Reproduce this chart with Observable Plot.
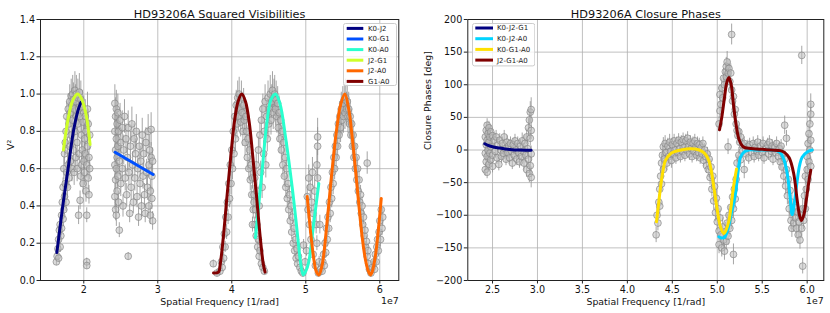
<!DOCTYPE html>
<html><head><meta charset="utf-8">
<script src="https://cdn.jsdelivr.net/npm/d3@7"></script>
<script src="https://cdn.jsdelivr.net/npm/@observablehq/plot@0.6"></script>
<style>
body{margin:0;background:#fff;font-family:"DejaVu Sans",sans-serif}
#wrap{display:flex;width:830px;height:313px}
.panel{position:relative;width:415px;height:313px}
</style></head><body>
<div id="wrap"><div class="panel" id="p1"></div><div class="panel" id="p2"></div></div>
<script>
// ---------- Left panel: squared visibilities ----------
const visTitle = "HD93206A Squared Visibilities";
const visYLabel = "V²";
const xLabel = "Spatial Frequency [1/rad]";
const visXTicks = [2, 3, 4, 5, 6];
const visYTicks = [0, 0.2, 0.4, 0.6, 0.8, 1.0, 1.2, 1.4];
const visNames = ["K0-J2", "K0-G1", "K0-A0", "J2-G1", "J2-A0", "G1-A0"];
const visColors = ["#000080", "#0050ff", "#29ffce", "#ceff29", "#ff6800", "#800000"];

// observed points [x (1e7/rad), V2, error]
const visPoints = [
[1.63,0.10,0.02],[1.64,0.13,0.02],[1.65,0.17,0.03],[1.66,0.12,0.02],[1.66,0.22,0.03],[1.67,0.27,0.03],[1.68,0.18,0.03],[1.68,0.30,0.04],[1.69,0.24,0.03],[1.70,0.35,0.04],[1.70,0.28,0.04],[1.71,0.42,0.05],[1.72,0.33,0.04],[1.72,0.50,0.05],[1.73,0.38,0.05],[1.73,0.60,0.06],[1.74,0.45,0.05],[1.74,0.68,0.06],[1.75,0.52,0.06],[1.75,0.74,0.07],[1.76,0.42,0.05],[1.76,0.80,0.07],[1.77,0.58,0.06],[1.77,0.88,0.08],[1.78,0.50,0.06],[1.78,0.70,0.07],[1.79,0.92,0.08],[1.79,0.62,0.06],[1.80,0.84,0.08],[1.80,0.55,0.06],[1.81,0.96,0.09],[1.81,0.72,0.07],[1.82,0.64,0.07],[1.82,0.90,0.08],[1.83,0.99,0.09],[1.83,0.78,0.08],[1.84,0.60,0.07],[1.84,0.94,0.09],[1.85,0.86,0.08],[1.85,1.00,0.10],[1.86,0.70,0.07],[1.86,0.97,0.09],[1.87,0.58,0.07],[1.87,0.92,0.09],[1.88,1.02,0.10],[1.88,0.80,0.08],[1.89,0.66,0.07],[1.89,0.96,0.09],[1.90,0.88,0.09],[1.90,1.00,0.10],[1.91,0.74,0.08],[1.91,0.60,0.07],[1.92,0.98,0.10],[1.92,0.84,0.09],[1.93,0.35,0.05],[1.93,0.92,0.09],[1.94,0.68,0.07],[1.94,1.01,0.10],[1.95,0.43,0.05],[1.95,0.88,0.09],[1.96,0.56,0.06],[1.96,0.97,0.10],[1.97,0.78,0.08],[1.97,0.62,0.07],[1.98,0.93,0.09],[1.98,0.70,0.07],[1.99,0.85,0.09],[1.99,0.52,0.06],[2.00,0.90,0.09],[2.00,0.64,0.07],[2.01,0.76,0.08],[2.01,0.58,0.07],[2.02,0.88,0.09],[2.02,0.68,0.07],[2.03,0.80,0.08],[2.03,0.48,0.06],[2.04,0.62,0.07],[2.04,0.10,0.02],[2.04,0.08,0.02],[2.04,0.35,0.04],[2.05,0.92,0.09],[2.05,0.72,0.08],[2.06,0.55,0.06],[2.06,0.84,0.08],[2.07,0.66,0.07],[2.07,0.46,0.05],[2.08,0.78,0.08],[2.08,0.60,0.06],
[2.42,0.95,0.10],[2.42,0.80,0.09],[2.42,0.62,0.08],[2.42,0.45,0.07],[2.43,0.88,0.10],[2.43,0.70,0.08],[2.43,0.54,0.07],[2.43,0.38,0.06],[2.44,0.92,0.10],[2.44,0.76,0.09],[2.44,0.60,0.08],[2.44,0.35,0.06],[2.45,0.84,0.09],[2.45,0.66,0.08],[2.45,0.48,0.07],[2.46,0.90,0.10],[2.46,0.72,0.08],[2.46,0.56,0.07],[2.47,0.80,0.09],[2.47,0.42,0.06],[2.48,0.27,0.04],[2.48,0.64,0.08],[2.49,0.86,0.09],[2.50,0.52,0.07],[2.50,0.74,0.08],[2.52,0.82,0.09],[2.52,0.60,0.07],[2.53,0.40,0.06],[2.54,0.70,0.08],[2.55,0.88,0.09],[2.56,0.55,0.07],[2.57,0.76,0.08],[2.58,0.46,0.06],[2.59,0.66,0.08],[2.60,0.13,0.02],[2.60,0.82,0.09],[2.61,0.58,0.07],[2.62,0.36,0.05],[2.63,0.72,0.08],[2.64,0.50,0.07],[2.65,0.84,0.09],[2.66,0.62,0.07],[2.67,0.42,0.06],[2.68,0.76,0.08],[2.69,0.55,0.07],[2.70,0.68,0.08],[2.71,0.80,0.09],[2.72,0.45,0.06],[2.73,0.60,0.07],[2.74,0.34,0.05],[2.75,0.72,0.08],[2.76,0.52,0.07],[2.77,0.64,0.08],[2.78,0.40,0.06],[2.79,0.78,0.09],[2.80,0.56,0.07],[2.81,0.68,0.08],[2.82,0.46,0.06],[2.83,0.36,0.05],[2.84,0.74,0.08],[2.85,0.58,0.07],[2.86,0.50,0.07],[2.87,0.80,0.09],[2.88,0.62,0.07],[2.88,0.40,0.06],[2.89,0.70,0.08],[2.90,0.48,0.06],[2.90,0.35,0.05],[2.91,0.66,0.08],[2.91,0.81,0.09],[2.92,0.56,0.07],[2.92,0.44,0.06],[2.93,0.32,0.05],[2.93,0.64,0.07],
[3.75,0.09,0.02],[3.80,0.04,0.02],[3.84,0.05,0.02],[3.86,0.10,0.02],[3.87,0.07,0.02],[3.88,0.18,0.03],[3.89,0.12,0.03],[3.90,0.25,0.03],[3.91,0.18,0.03],[3.92,0.34,0.04],[3.93,0.26,0.04],[3.94,0.42,0.05],[3.95,0.34,0.04],[3.96,0.52,0.05],[3.97,0.44,0.05],[3.98,0.62,0.06],[3.99,0.52,0.06],[4.00,0.70,0.06],[4.01,0.60,0.06],[4.02,0.80,0.07],[4.03,0.68,0.07],[4.04,0.88,0.08],[4.05,0.76,0.07],[4.06,0.94,0.08],[4.07,0.84,0.08],[4.08,0.98,0.09],[4.09,0.88,0.08],[4.10,1.00,0.09],[4.11,0.92,0.09],[4.12,0.85,0.08],[4.13,0.98,0.09],[4.14,0.90,0.09],[4.15,0.80,0.08],[4.16,0.94,0.09],[4.17,0.86,0.08],[4.18,0.74,0.07],[4.19,0.88,0.08],[4.20,0.80,0.08],[4.21,0.66,0.07],[4.22,0.76,0.07],[4.23,0.60,0.06],[4.24,0.70,0.07],[4.25,0.54,0.06],[4.26,0.62,0.06],[4.27,0.46,0.05],[4.28,0.55,0.06],[4.29,0.38,0.05],[4.30,0.46,0.05],[4.31,0.30,0.04],[4.32,0.38,0.05],[4.33,0.24,0.04],[4.34,0.30,0.04],[4.35,0.18,0.03],[4.36,0.22,0.03],[4.37,0.13,0.03],[4.38,0.16,0.03],[4.40,0.09,0.02],[4.42,0.07,0.02],[4.44,0.05,0.02],
[4.28,0.30,0.04],[4.30,0.42,0.05],[4.31,0.55,0.06],[4.33,0.62,0.06],[4.34,0.48,0.05],[4.36,0.70,0.07],[4.37,0.40,0.05],[4.38,0.78,0.07],[4.39,0.58,0.06],[4.40,0.86,0.08],[4.41,0.50,0.06],[4.42,0.92,0.08],[4.43,0.68,0.07],[4.44,0.80,0.07],[4.45,0.96,0.09],[4.46,0.62,0.07],[4.47,0.88,0.08],[4.48,0.76,0.07],[4.49,0.98,0.09],[4.50,0.84,0.08],[4.51,0.92,0.09],[4.52,1.00,0.10],[4.53,0.86,0.08],[4.54,0.96,0.09],[4.55,1.02,0.10],[4.56,0.90,0.09],[4.57,0.98,0.10],[4.58,1.00,0.10],[4.59,0.92,0.09],[4.60,0.97,0.10],[4.61,0.88,0.09],[4.62,0.95,0.09],[4.63,0.82,0.08],[4.64,0.90,0.09],[4.65,0.76,0.08],[4.66,0.86,0.08],[4.67,0.70,0.07],[4.68,0.80,0.08],[4.69,0.62,0.07],[4.70,0.74,0.07],[4.71,0.56,0.06],[4.72,0.66,0.07],[4.73,0.50,0.06],[4.74,0.60,0.06],[4.75,0.44,0.05],[4.76,0.52,0.06],[4.77,0.38,0.05],[4.78,0.46,0.05],[4.79,0.32,0.04],[4.80,0.40,0.05],[4.81,0.26,0.04],[4.82,0.34,0.04],[4.83,0.20,0.03],[4.84,0.28,0.04],[4.85,0.16,0.03],[4.86,0.22,0.03],[4.87,0.12,0.03],[4.88,0.17,0.03],[4.89,0.09,0.02],[4.90,0.13,0.03],[4.92,0.07,0.02],[4.94,0.05,0.02],[4.96,0.04,0.02],[4.97,0.19,0.03],
[4.99,0.10,0.02],[5.01,0.16,0.03],[5.02,0.45,0.06],[5.03,0.38,0.05],[5.04,0.55,0.07],[5.05,0.30,0.05],[5.06,0.50,0.06],[5.07,0.22,0.04],[5.08,0.42,0.06],[5.09,0.58,0.08],[5.10,0.14,0.03],[5.10,0.36,0.05],[5.12,0.48,0.06],[5.13,0.08,0.02],[5.14,0.30,0.05],[5.15,0.62,0.08],[5.15,0.20,0.04],[5.16,0.77,0.10],[5.16,0.72,0.10],[5.16,0.55,0.07],[5.17,0.04,0.02],[5.18,0.10,0.03],[5.19,0.30,0.05],[5.20,0.06,0.02],
[5.22,0.05,0.02],[5.23,0.10,0.03],[5.24,0.14,0.03],[5.25,0.08,0.02],[5.26,0.20,0.03],[5.27,0.15,0.03],[5.28,0.28,0.04],[5.29,0.22,0.04],[5.30,0.34,0.05],[5.31,0.28,0.04],[5.32,0.42,0.05],[5.33,0.36,0.05],[5.34,0.50,0.06],[5.35,0.44,0.05],[5.36,0.58,0.06],[5.37,0.52,0.06],[5.38,0.66,0.07],[5.39,0.60,0.06],[5.40,0.72,0.07],[5.41,0.66,0.07],[5.42,0.78,0.07],[5.43,0.72,0.07],[5.44,0.84,0.08],[5.45,0.78,0.07],[5.46,0.88,0.08],[5.47,0.82,0.08],[5.48,0.92,0.09],[5.49,0.86,0.08],[5.50,0.95,0.09],[5.51,0.88,0.09],[5.52,0.97,0.09],[5.53,0.90,0.09],[5.54,0.98,0.10],[5.55,0.92,0.09],[5.56,0.96,0.09],[5.57,0.88,0.09],[5.58,0.92,0.09],[5.59,0.84,0.08],[5.60,0.88,0.09],[5.61,0.78,0.08],[5.62,0.84,0.08],[5.63,0.72,0.07],[5.64,0.78,0.08],[5.65,0.66,0.07],[5.66,0.72,0.07],[5.67,0.60,0.06],[5.68,0.66,0.07],[5.69,0.54,0.06],[5.70,0.60,0.06],[5.71,0.48,0.05],[5.72,0.54,0.06],[5.73,0.42,0.05],[5.74,0.46,0.05],[5.75,0.36,0.05],[5.76,0.40,0.05],[5.77,0.30,0.04],[5.78,0.34,0.04],[5.79,0.24,0.04],[5.80,0.27,0.04],[5.81,0.18,0.03],[5.82,0.21,0.03],[5.83,0.63,0.06],[5.83,0.13,0.03],[5.84,0.16,0.03],[5.85,0.09,0.02],[5.86,0.06,0.02],[5.88,0.04,0.02],[5.90,0.07,0.02],[5.92,0.10,0.03],[5.93,0.06,0.02],[5.94,0.14,0.03],[5.95,0.10,0.03],[5.96,0.18,0.03],[5.97,0.22,0.04],[5.98,0.16,0.03],[5.99,0.26,0.04],[6.00,0.32,0.05],[6.01,0.22,0.04],[6.02,0.38,0.05],[6.03,0.28,0.04],[6.04,0.34,0.05]
];

// model curves (one per baseline, same order as visNames)
const visK0J2 = [[1.635,0.15],[1.652,0.20],[1.716,0.40],[1.788,0.60],[1.86,0.80],[1.92,0.91],[1.96,0.955]];
const visK0G1 = [[2.423,0.688],[2.937,0.569]];
const visK0A0 = [[4.32,0.23],[4.365,0.41],[4.41,0.59],[4.478,0.86],[4.53,0.97],[4.59,1.0],[4.65,0.95],[4.726,0.77],[4.816,0.50],[4.865,0.33],[4.905,0.18],[4.94,0.07],[4.965,0.03],[5.00,0.05],[5.04,0.10],[5.108,0.31],[5.176,0.52]];
const visJ2G1 = [[1.725,0.70],[1.76,0.80],[1.80,0.89],[1.85,0.965],[1.915,1.0],[1.96,0.983],[2.00,0.94],[2.04,0.87],[2.085,0.73]];
const visJ2A0 = [[5.019,0.45],[5.06,0.28],[5.10,0.14],[5.14,0.05],[5.176,0.03],[5.22,0.08],[5.289,0.32],[5.33,0.49],[5.378,0.68],[5.42,0.82],[5.469,0.94],[5.527,1.0],[5.58,0.92],[5.627,0.77],[5.67,0.60],[5.716,0.41],[5.76,0.24],[5.807,0.11],[5.845,0.05],[5.874,0.03],[5.90,0.05],[5.94,0.13],[5.98,0.27],[6.02,0.44]];
const visG1A0 = [[3.753,0.04],[3.82,0.045],[3.845,0.09],[3.885,0.23],[3.935,0.45],[3.985,0.66],[4.035,0.85],[4.085,0.96],[4.135,1.0],[4.185,0.96],[4.235,0.85],[4.285,0.66],[4.335,0.45],[4.385,0.23],[4.425,0.09],[4.45,0.045]];
const visCurves = [visK0J2, visK0G1, visK0A0, visJ2G1, visJ2A0, visG1A0];

// ---------- Right panel: closure phases ----------
const cpTitle = "HD93206A Closure Phases";
const cpYLabel = "Closure Phases [deg]";
const cpXTicks = [2.5, 3.0, 3.5, 4.0, 4.5, 5.0, 5.5, 6.0];
const cpYTicks = [-200, -150, -100, -50, 0, 50, 100, 150, 200];
const cpNames = ["K0-J2-G1", "K0-J2-A0", "K0-G1-A0", "J2-G1-A0"];
const cpColors = ["#000080", "#00d4ff", "#ffe000", "#800000"];

const cpPoints = [
[2.42,20,12],[2.42,-5,12],[2.42,-30,10],[2.43,30,12],[2.43,8,12],[2.43,-18,12],[2.44,38,10],[2.44,15,12],[2.44,-10,12],[2.44,-34,10],[2.45,25,12],[2.45,0,12],[2.46,34,10],[2.46,12,12],[2.46,-22,12],[2.47,20,12],[2.47,-5,12],[2.48,28,10],[2.48,5,12],[2.48,-15,12],[2.50,22,10],[2.50,-8,10],[2.50,-25,10],[2.52,15,10],[2.53,-2,10],[2.54,20,10],[2.55,-12,10],[2.56,8,10],[2.57,-22,10],[2.58,15,10],[2.59,0,10],[2.60,-10,10],[2.61,10,10],[2.62,-5,10],[2.63,20,10],[2.64,2,10],[2.65,-14,10],[2.66,12,10],[2.67,-4,10],[2.68,6,10],[2.69,-12,10],[2.70,10,10],[2.71,-2,10],[2.72,-20,10],[2.73,8,10],[2.74,-8,10],[2.75,14,10],[2.76,0,10],[2.77,-14,10],[2.78,10,10],[2.79,-4,10],[2.80,-18,10],[2.81,6,10],[2.82,-10,10],[2.83,14,12],[2.84,-2,12],[2.85,-20,12],[2.86,10,12],[2.87,-8,12],[2.88,20,12],[2.88,-30,12],[2.89,2,12],[2.90,34,14],[2.90,-14,12],[2.91,46,14],[2.91,-36,14],[2.92,58,16],[2.92,18,12],[2.92,-24,14],[2.93,62,18],[2.93,30,14],[2.93,-6,12],[2.93,-42,16],
[4.32,-130,12],[4.33,-100,12],[4.34,-112,12],[4.35,-80,12],[4.36,-86,12],[4.36,-60,12],[4.37,-40,14],[4.38,-52,12],[4.38,-20,14],[4.39,-8,14],[4.40,-30,12],[4.40,5,14],[4.41,-14,12],[4.42,10,12],[4.43,-4,12],[4.44,-20,12],[4.45,6,12],[4.46,-10,12],[4.47,12,12],[4.48,-2,12],[4.49,-16,12],[4.50,8,10],[4.51,-6,10],[4.52,14,10],[4.53,0,10],[4.54,-12,10],[4.55,10,10],[4.56,-4,10],[4.57,15,10],[4.58,2,10],[4.59,-10,10],[4.60,12,10],[4.61,-2,10],[4.62,16,10],[4.63,4,10],[4.64,-8,10],[4.65,14,10],[4.66,0,10],[4.67,18,10],[4.68,6,10],[4.69,-6,10],[4.70,12,10],[4.71,2,10],[4.72,-10,10],[4.73,10,10],[4.74,-2,10],[4.75,14,10],[4.76,4,10],[4.77,-8,10],[4.78,10,10],[4.79,-4,10],[4.80,8,10],[4.81,-12,10],[4.82,4,10],[4.83,-6,10],[4.84,10,10],[4.85,-16,10],[4.86,0,10],[4.87,-10,10],[4.88,-24,12],[4.89,-6,10],[4.90,-30,12],[4.91,-14,12],[4.92,-42,12],[4.93,-26,12],[4.94,-60,12],[4.95,-40,12],[4.96,-78,14],[4.97,-56,14],[4.98,-96,14],[4.99,-74,14],[5.00,-110,14],[5.01,-90,14],[5.02,-124,14],[5.02,-145,14],[5.03,-104,14],[5.04,-130,14],[5.05,-150,14],[5.06,-118,14],[5.07,-138,14],[5.08,-155,14],[5.09,-125,14],[5.10,-140,14],[5.11,-112,14],[5.12,-132,14],[5.13,-100,14],[5.14,-120,14],[5.15,-88,14],[5.16,-108,14],[5.17,-72,14],[5.18,-160,16],[5.18,-90,14],[5.19,-60,14],[5.20,-75,14],[5.21,-45,12],
[5.02,40,12],[5.03,60,12],[5.03,85,14],[5.04,70,12],[5.05,95,14],[5.06,80,14],[5.07,110,14],[5.08,100,14],[5.09,120,14],[5.10,128,14],[5.10,112,14],[5.11,135,16],[5.12,118,14],[5.12,5,12],[5.13,125,14],[5.14,105,14],[5.15,118,14],[5.16,177,16],[5.16,92,14],[5.17,75,14],[5.18,82,14],[5.19,55,12],[5.20,62,12],[5.21,40,12],[5.22,30,12],[5.23,22,12],[5.24,28,10],[5.25,12,10],[5.26,20,10],[5.28,8,10],
[5.22,-20,12],[5.24,-8,12],[5.26,-15,12],[5.28,-2,10],[5.30,-30,14],[5.30,10,10],[5.32,-6,10],[5.34,5,10],[5.35,-12,10],[5.36,8,10],[5.38,-4,10],[5.40,10,10],[5.41,-10,10],[5.42,4,10],[5.44,-2,10],[5.45,12,10],[5.46,-8,10],[5.48,6,10],[5.50,-4,10],[5.51,10,10],[5.52,-12,10],[5.54,2,10],[5.56,8,10],[5.57,-6,10],[5.58,12,10],[5.60,-2,10],[5.61,6,10],[5.62,-14,10],[5.64,4,10],[5.65,-4,10],[5.66,10,10],[5.68,-10,10],[5.69,2,10],[5.70,-18,12],[5.71,6,10],[5.72,-26,12],[5.73,-6,12],[5.74,-40,14],[5.75,38,14],[5.75,-14,12],[5.76,-55,14],[5.77,18,12],[5.77,-30,12],[5.78,-70,14],[5.79,-45,14],[5.80,-90,14],[5.81,-62,14],[5.82,-108,14],[5.83,-80,14],[5.83,-120,14],[5.84,-96,14],[5.85,-112,14],[5.86,-88,14],[5.87,-104,14],[5.88,-120,14],[5.89,-95,14],[5.90,-130,14],[5.91,-110,14],[5.92,-138,14],[5.93,-100,14],[5.94,145,14],[5.94,-120,14],[5.95,-178,12],[5.95,-90,14],[5.96,-108,14],[5.97,-70,14],[5.98,-90,14],[5.98,-40,14],[5.99,-60,14],[6.00,-10,14],[6.00,-30,14],[6.01,10,14],[6.01,-45,14],[6.02,25,14],[6.02,-18,14],[6.03,40,14],[6.03,0,14],[6.04,55,16],[6.04,70,16],[6.04,-25,14],[6.04,15,14]
];

const cpK0J2G1 = [[2.414,9.5],[2.45,7],[2.5,5],[2.567,3.2],[2.64,1.5],[2.715,0.5],[2.8,0],[2.93,-0.5]];
const cpK0J2A0 = [[5.018,-133],[5.05,-135],[5.08,-134],[5.12,-120],[5.16,-95],[5.203,-67],[5.23,-35],[5.259,-11],[5.30,-3],[5.35,0],[5.45,0],[5.55,0],[5.65,-1],[5.70,-4],[5.74,-14],[5.778,-36],[5.81,-72],[5.833,-99],[5.86,-78],[5.889,-47],[5.915,-24],[5.944,-11],[6.00,-3],[6.056,0]];
const cpK0G1A0 = [[4.324,-110],[4.345,-85],[4.369,-57],[4.395,-33],[4.424,-16],[4.47,-7],[4.517,-3],[4.60,0],[4.70,2],[4.80,0],[4.85,-4],[4.88,-9],[4.906,-16],[4.935,-33],[4.962,-57],[5.00,-92],[5.036,-118],[5.073,-128],[5.10,-122],[5.13,-108],[5.155,-85],[5.18,-57],[5.214,-29]];
const cpJ2G1A0 = [[5.025,31],[5.05,50],[5.08,80],[5.105,103],[5.13,111],[5.155,100],[5.18,70],[5.21,38],[5.24,17],[5.27,8],[5.30,4],[5.40,2],[5.50,1],[5.60,0],[5.70,-1],[5.75,-4],[5.80,-12],[5.85,-36],[5.889,-77],[5.915,-100],[5.937,-108],[5.965,-98],[5.99,-77],[6.015,-52],[6.04,-31]];
const cpCurves = [cpK0J2G1, cpK0J2A0, cpK0G1A0, cpJ2G1A0];

// ---------- drawing ----------
const FONT = "DejaVu Sans";
const minus = v => (v < 0 ? "\u2212" + String(-v) : String(v));

function panel(cfg) {
  const gridStyle = {stroke: "#b0b0b0", strokeOpacity: 1, strokeWidth: 0.8};
  const marks = [
    Plot.gridX(cfg.xTicks, gridStyle),
    Plot.gridY(cfg.yTicks, gridStyle),
    Plot.ruleX(cfg.points, {x: d => d[0], y1: d => d[1] - d[2], y2: d => d[1] + d[2], stroke: "#8f8f8f", strokeOpacity: 0.8, strokeWidth: 1, clip: true}),
    Plot.dot(cfg.points, {x: d => d[0], y: d => d[1], r: 3.4, fill: "#bdbdbd", fillOpacity: 0.55, stroke: "#858585", strokeOpacity: 0.75, strokeWidth: 0.9, clip: true}),
    ...cfg.curves.map((c, i) => Plot.line(c, {x: d => d[0], y: d => d[1], stroke: cfg.colors[i], strokeWidth: 3, curve: "catmull-rom", clip: true})),
    Plot.frame({stroke: "#222222", strokeWidth: 1}),
    Plot.axisX(cfg.xTicks, {tickSize: 3.5, tickPadding: 2, tickFormat: cfg.xFormat, label: null, fontSize: 9.6, fill: "#111", stroke: "#222"}),
    Plot.axisY(cfg.yTicks, {tickSize: 3.5, tickPadding: 2, tickFormat: cfg.yFormat, label: null, fontSize: 9.6, fill: "#111", stroke: "#222"}),
    Plot.text([cfg.title], {frameAnchor: "top", dy: -9.7, fontSize: 11.3, fill: "#111"}),
    Plot.text([xLabel], {frameAnchor: "bottom", dy: 24, fontSize: 9.4, fill: "#111"}),
    Plot.text(["1e7"], {frameAnchor: "bottom-right", dy: 23, textAnchor: "end", fontSize: 9.4, fill: "#111"}),
    Plot.text([cfg.yLabel], {frameAnchor: "left", dx: cfg.yLabelDx, rotate: -90, fontSize: 9.4, fill: "#111"})
  ];
  return Plot.plot({
    width: 415, height: 313,
    marginLeft: cfg.ml, marginRight: cfg.mr, marginTop: 19, marginBottom: 33,
    style: {fontFamily: FONT, fontSize: "9.4px", background: "white", overflow: "visible"},
    x: {domain: cfg.xDomain},
    y: {domain: cfg.yDomain},
    marks
  });
}

function addLegend(el, names, colors, o) {
  const svg = d3.select(el).append("svg")
    .style("position", "absolute").style("left", o.left + "px").style("top", o.top + "px")
    .attr("width", o.w).attr("height", o.h);
  svg.append("rect").attr("x", 0.5).attr("y", 0.5).attr("width", o.w - 1).attr("height", o.h - 1)
    .attr("rx", 2).attr("fill", "white").attr("fill-opacity", 0.8).attr("stroke", "#cccccc");
  names.forEach((n, i) => {
    const y = o.y0 + i * o.dy;
    svg.append("line").attr("x1", o.x1).attr("x2", o.x2).attr("y1", y).attr("y2", y)
      .attr("stroke", colors[i]).attr("stroke-width", 3);
    svg.append("text").attr("x", o.tx).attr("y", y).attr("dy", "0.35em")
      .attr("font-size", 7).attr("font-family", FONT).attr("fill", "#222").text(n);
  });
}

const p1 = document.getElementById("p1");
const p2 = document.getElementById("p2");

p1.append(panel({
  title: visTitle, yLabel: visYLabel, yLabelDx: -30,
  xTicks: visXTicks, yTicks: visYTicks,
  xFormat: d => String(d), yFormat: d => d.toFixed(1),
  xDomain: [1.415, 6.257], yDomain: [0, 1.4],
  ml: 40, mr: 16.7,
  points: visPoints, curves: visCurves, colors: visColors
}));
addLegend(p1, visNames, visColors, {left: 343, top: 23, w: 54, h: 63, y0: 5.4, dy: 10.6, x1: 3.7, x2: 20.3, tx: 25});

p2.append(panel({
  title: cpTitle, yLabel: cpYLabel, yLabelDx: -39.6,
  xTicks: cpXTicks, yTicks: cpYTicks,
  xFormat: d => d.toFixed(1), yFormat: minus,
  xDomain: [2.225, 6.185], yDomain: [-200, 200],
  ml: 52.3, mr: 6.7,
  points: cpPoints, curves: cpCurves, colors: cpColors
}));
addLegend(p2, cpNames, cpColors, {left: 56.7, top: 23.3, w: 63.3, h: 43.4, y0: 5, dy: 10.7, x1: 3.3, x2: 21, tx: 25});
</script>
</body></html>
